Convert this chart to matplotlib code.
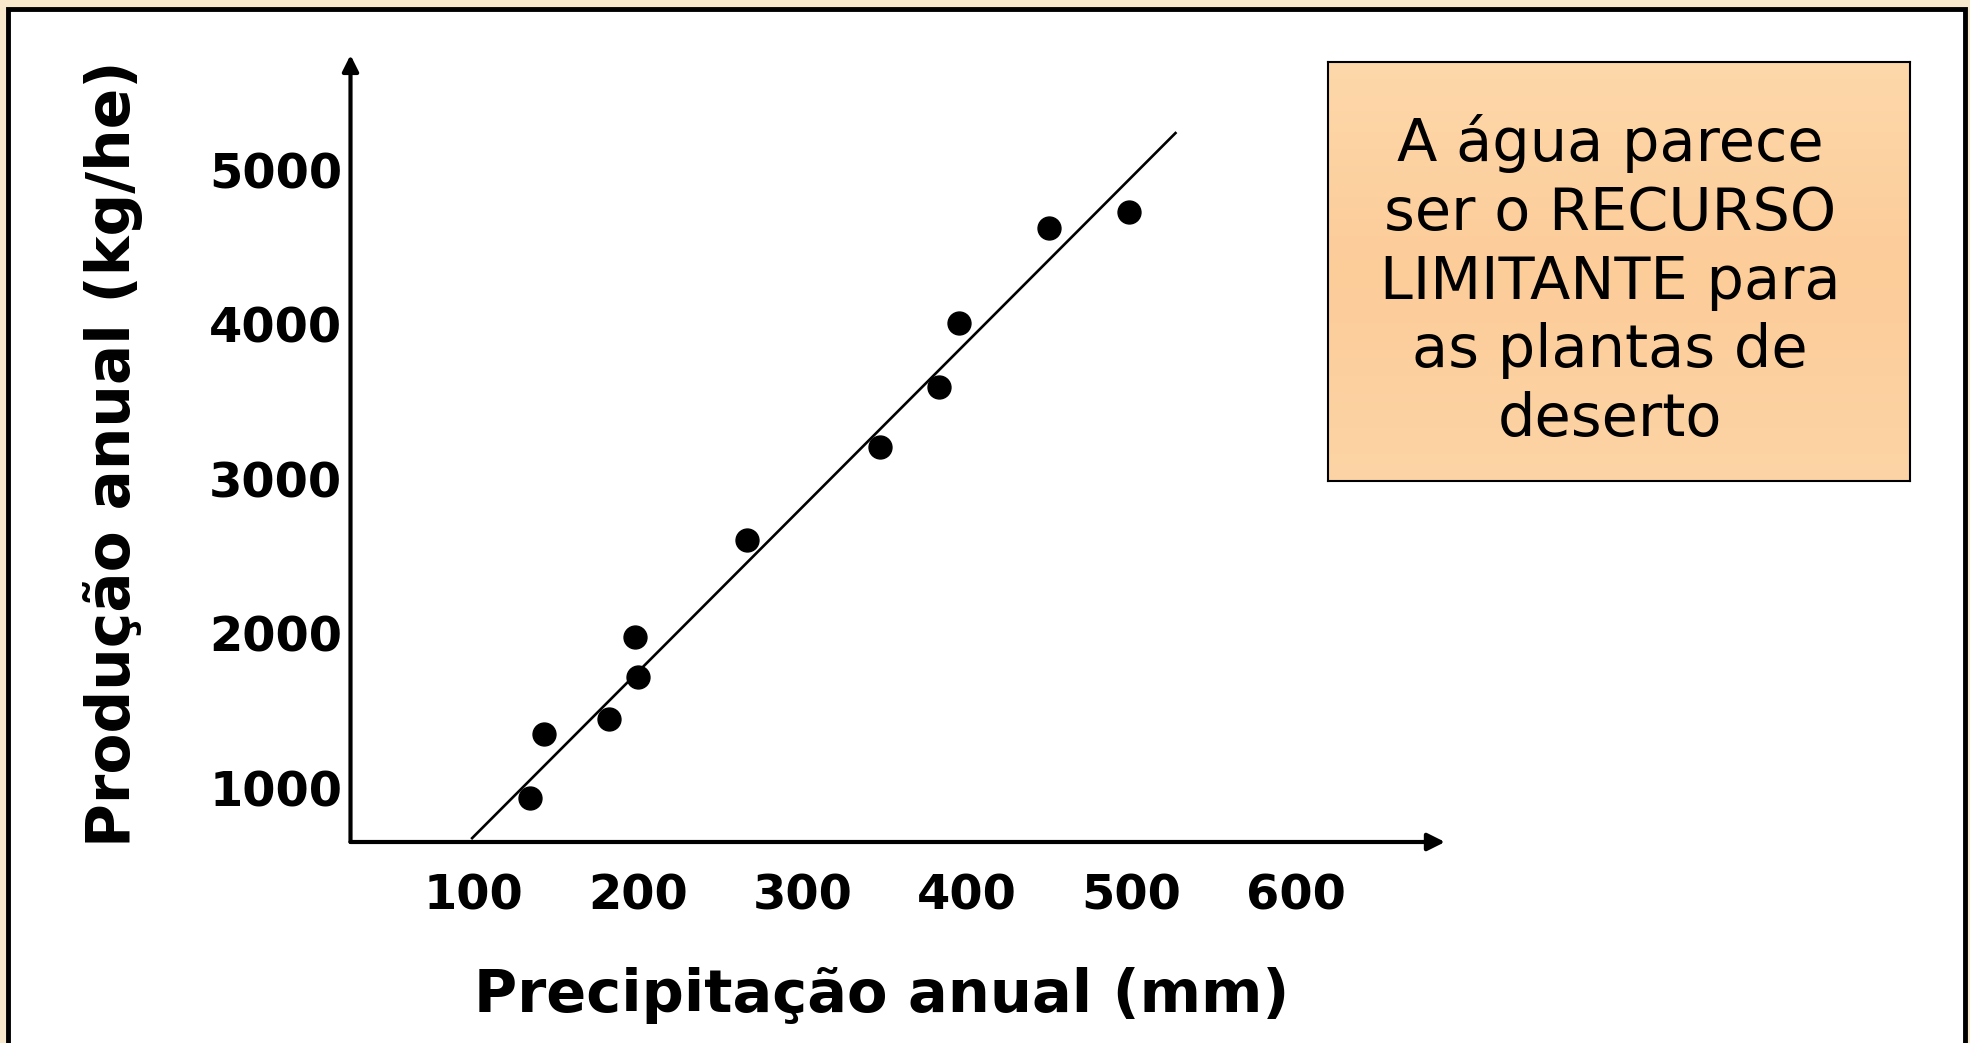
import numpy as np
import matplotlib.pyplot as plt
from matplotlib.patches import Rectangle

# dados
precip = [134, 143, 182, 198, 200, 266, 347, 383, 395, 450, 499]
producao = [935, 1350, 1448, 1977, 1717, 2604, 3207, 3590, 4005, 4624, 4722]

# reta ajustada (extremos)
reta_x = [99, 527]
reta_y = [674, 5236]

xticks = [100, 200, 300, 400, 500, 600]
yticks = [1000, 2000, 3000, 4000, 5000]

texto_caixa = "A água parece\nser o RECURSO\nLIMITANTE para\nas plantas de\ndeserto"

W, H = 1970, 1043
fig = plt.figure(figsize=(W / 100, H / 100), dpi=100)
fig.patch.set_facecolor("#F8E9CD")

# painel branco com borda preta
painel = Rectangle((8 / W, -0.05), (1965 - 8) / W, 1 - 9 / H + 0.05,
                   transform=fig.transFigure, facecolor="white",
                   edgecolor="black", linewidth=3.5, zorder=-10)
fig.patches.append(painel)

ax = fig.add_axes([350.5 / W, 1 - 842 / H, (1445 - 350.5) / W, (842 - 55) / H])
ax.patch.set_alpha(0)
ax.set_xlim(25, 691)
ax.set_ylim(649, 5741)

ax.scatter(precip, producao, s=16.5 ** 2, color="black", zorder=3)
ax.plot(reta_x, reta_y, color="black", lw=1.9, zorder=2)

for s in ax.spines.values():
    s.set_visible(False)

# eixos com setas
ax.annotate("", xy=(1, 0), xytext=(0, 0), xycoords="axes fraction",
            arrowprops=dict(arrowstyle="-|>", lw=3, color="black",
                            mutation_scale=26, shrinkA=0, shrinkB=0))
ax.annotate("", xy=(0, 1), xytext=(0, 0), xycoords="axes fraction",
            arrowprops=dict(arrowstyle="-|>", lw=3, color="black",
                            mutation_scale=24, shrinkA=0, shrinkB=0))

ax.set_xticks(xticks)
ax.set_yticks(yticks)
ax.set_xticklabels([str(v) for v in xticks], fontsize=34.5, fontweight="bold")
ax.set_yticklabels([str(v) for v in yticks], fontsize=34.5, fontweight="bold")
ax.tick_params(axis="x", length=0, pad=22)
ax.tick_params(axis="y", length=0, pad=6)

fig.text(882 / W, 1 - 995 / H, "Precipitação anual (mm)", fontsize=42.5,
         fontweight="bold", ha="center", va="center")
fig.text(113 / W, 1 - 454 / H, "Produção anual (kg/he)", fontsize=43,
         fontweight="bold", ha="center", va="center", rotation=90)

# caixa de texto com gradiente
bx0, bx1, by0, by1 = 1328 / W, 1910 / W, 1 - 481 / H, 1 - 62 / H
axb = fig.add_axes([bx0, by0, bx1 - bx0, by1 - by0])
grad = np.linspace(0, 1, 256).reshape(-1, 1)
c_top = np.array([254, 216, 170]) / 255
c_mid = np.array([252, 204, 153]) / 255
c_bot = np.array([253, 212, 165]) / 255
t = grad[:, 0]
cores = np.where((t < 0.5)[:, None],
                 c_top + (c_mid - c_top) * (t / 0.5)[:, None],
                 c_mid + (c_bot - c_mid) * ((t - 0.5) / 0.5)[:, None])
axb.imshow(cores.reshape(-1, 1, 3), aspect="auto", extent=[0, 1, 0, 1])
axb.set_xlim(0, 1)
axb.set_ylim(0, 1)
axb.set_xticks([])
axb.set_yticks([])
for s in axb.spines.values():
    s.set_linewidth(1.5)
axb.text(0.485, 0.477, texto_caixa, fontsize=42.5, ha="center", va="center",
         linespacing=1.26, transform=axb.transAxes)

fig.savefig("out.png", dpi=100, facecolor=fig.get_facecolor())
